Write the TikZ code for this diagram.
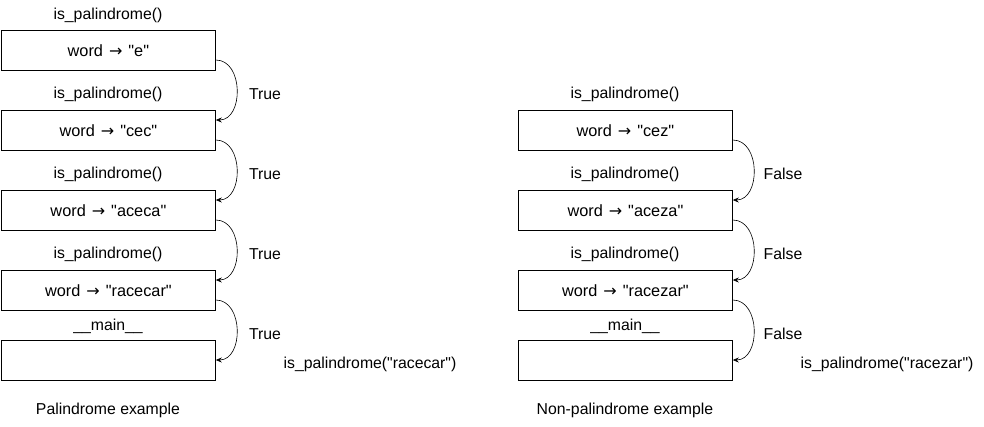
\documentclass[tikz,border=0pt]{standalone}
\usepackage{fontspec}
\setmainfont{Liberation Sans}[Ligatures=TeXOff]
\newfontfamily\arrowfont{DejaVu Sans}
\newcommand{\rarr}{\hspace{6pt}{\arrowfont\fontsize{16}{18}\selectfont →}\hspace{6pt}}
\usetikzlibrary{arrows.meta}
\begin{document}
\begin{tikzpicture}[x=1pt,y=-1pt,
  frame/.style={draw,line width=0.8pt,minimum width=214pt,minimum height=40pt,inner sep=0pt,anchor=north west,font=\fontsize{16.3}{18}\selectfont},
  lbl/.style={font=\fontsize{15.8}{18}\selectfont,inner sep=0pt},
  conn/.style={line width=0.6pt,-{Stealth[length=6pt,width=5pt,inset=2pt]}}]
\useasboundingbox (0,0) rectangle (984,426);
% left column
\node[frame] (l1) at (1,30) {word\rarr"e"};
\node[frame] (l2) at (1,110) {word\rarr"cec"};
\node[frame] (l3) at (1,190) {word\rarr"aceca"};
\node[frame] (l4) at (1,270) {word\rarr"racecar"};
\node[frame] (l5) at (1,340) {};
\node[lbl] (lt1) at (108,15) {is\_palindrome()};
\node[lbl] (lt2) at (108,94) {is\_palindrome()};
\node[lbl] (lt3) at (108,174) {is\_palindrome()};
\node[lbl] (lt4) at (108,254) {is\_palindrome()};
\node[lbl] (lt5) at (108,326) {\_\_main\_\_};
\node[lbl] (lr1) at (265,94) {True};
\node[lbl] (lr2) at (265,174) {True};
\node[lbl] (lr3) at (265,254) {True};
\node[lbl] (lr4) at (265,334) {True};
\node[lbl] (lcall) at (370,364) {is\_palindrome("racecar")};
\node[lbl] (lcap) at (108,410) {Palindrome example};
\draw[conn] (l1.north east |- 0,60) .. controls +(28,0) and +(28,0) .. (l2.north east |- 0,120);
\draw[conn] (l2.north east |- 0,140) .. controls +(28,0) and +(28,0) .. (l3.north east |- 0,200);
\draw[conn] (l3.north east |- 0,220) .. controls +(28,0) and +(28,0) .. (l4.north east |- 0,280);
\draw[conn] (l4.north east |- 0,300) .. controls +(28,0) and +(28,0) .. (l5.north east |- 0,360);
% right column
\node[frame] (r2) at (518,110) {word\rarr"cez"};
\node[frame] (r3) at (518,190) {word\rarr"aceza"};
\node[frame] (r4) at (518,270) {word\rarr"racezar"};
\node[frame] (r5) at (518,340) {};
\node[lbl] (rt2) at (625,94) {is\_palindrome()};
\node[lbl] (rt3) at (625,174) {is\_palindrome()};
\node[lbl] (rt4) at (625,254) {is\_palindrome()};
\node[lbl] (rt5) at (625,326) {\_\_main\_\_};
\node[lbl] (rr2) at (783,174) {False};
\node[lbl] (rr3) at (783,254) {False};
\node[lbl] (rr4) at (783,334) {False};
\node[lbl] (rcall) at (887,364) {is\_palindrome("racezar")};
\node[lbl] (rcap) at (625,410) {Non-palindrome example};
\draw[conn] (r2.north east |- 0,140) .. controls +(28,0) and +(28,0) .. (r3.north east |- 0,200);
\draw[conn] (r3.north east |- 0,220) .. controls +(28,0) and +(28,0) .. (r4.north east |- 0,280);
\draw[conn] (r4.north east |- 0,300) .. controls +(28,0) and +(28,0) .. (r5.north east |- 0,360);
\end{tikzpicture}
\end{document}
